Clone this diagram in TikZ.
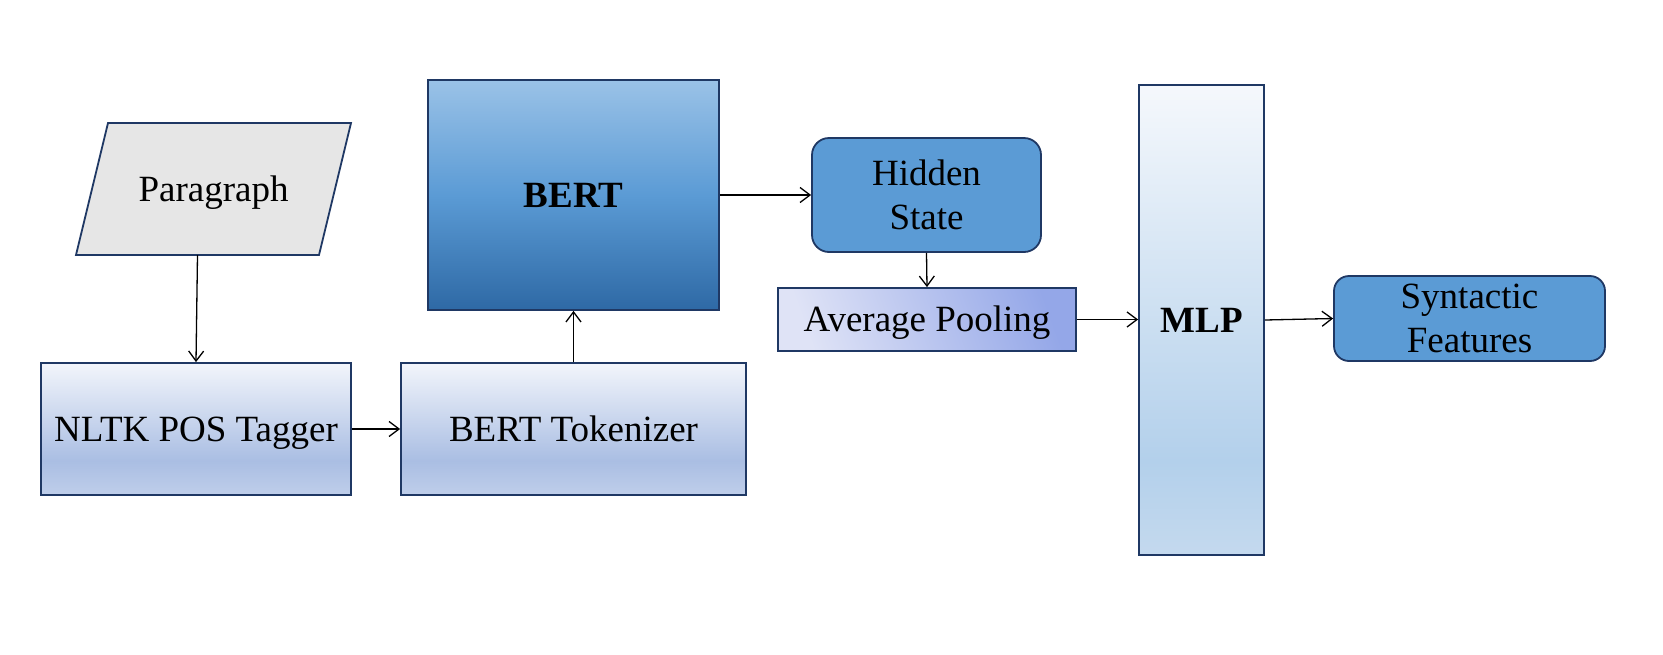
\documentclass[tikz,border=0pt]{standalone}
\usepackage{fontspec}
\setmainfont{Liberation Serif}
\usetikzlibrary{arrows.meta}
\definecolor{bord}{HTML}{1F3864}
\definecolor{paraf}{HTML}{E6E6E6}
\definecolor{nt}{HTML}{F2F5FB}
\definecolor{nm}{HTML}{AABEE3}
\definecolor{nb}{HTML}{BFCEEA}
\definecolor{bt}{HTML}{9AC2E7}
\definecolor{bm}{HTML}{5B9BD5}
\definecolor{bb}{HTML}{2E69A5}
\definecolor{mt}{HTML}{F5F8FC}
\definecolor{mm}{HTML}{B3D0EB}
\definecolor{mb}{HTML}{C4D9EE}
\definecolor{solidb}{HTML}{5B9BD5}
\definecolor{avgL}{HTML}{DFE3F6}
\definecolor{avgR}{HTML}{94A7E8}
\pgfdeclareverticalshading{nltkshade}{100bp}{color(0bp)=(nb); color(25bp)=(nb); color(38bp)=(nm); color(75bp)=(nt); color(100bp)=(nt)}
\pgfdeclareverticalshading{bertshade}{100bp}{color(0bp)=(bb); color(25bp)=(bb); color(50bp)=(bm); color(75bp)=(bt); color(100bp)=(bt)}
\pgfdeclareverticalshading{mlpshade}{100bp}{color(0bp)=(mb); color(25bp)=(mb); color(35bp)=(mm); color(75bp)=(mt); color(100bp)=(mt)}
\begin{document}
\begin{tikzpicture}[x=1pt,y=-1pt,
  txt/.style={font=\fontsize{37}{44}\selectfont},
  oneline/.style={text height=24.5pt, text depth=0pt},
  box/.style={txt, draw=bord, line width=1.8pt, inner sep=0pt, align=center},
  conn/.style={line width=1.3pt, -{Straight Barb[length=10pt,width=15pt]}}]
\useasboundingbox (0,0) rectangle (1663,654);
\fill[white] (0,0) rectangle (1663,654);
% Paragraph parallelogram
\draw[draw=bord, line width=1.8pt, fill=paraf] (76,255) -- (108,123) -- (351,123) -- (319,255) -- cycle;
\node[txt, oneline, inner sep=0pt] (para) at (213.5,189) {Paragraph};
\coordinate (pb) at (197.5,255);
\node[box, oneline, shading=nltkshade, minimum width=310pt, minimum height=132pt] (nltk) at (196,429) {NLTK POS Tagger};
\node[box, oneline, shading=nltkshade, minimum width=345pt, minimum height=132pt] (tok) at (573.5,429) {BERT Tokenizer};
\node[box, oneline, shading=bertshade, minimum width=291pt, minimum height=230pt] (bert) at (573.5,195) {\textbf{BERT}};
\node[box, fill=solidb, rounded corners=17pt, minimum width=229pt, minimum height=114pt] (hidden) at (926.5,195) {Hidden\\State};
\node[box, oneline, bottom color=avgL, top color=avgR, shading angle=-70, minimum width=298pt, minimum height=63pt] (avg) at (927,319.5) {Average Pooling};
\node[box, oneline, shading=mlpshade, minimum width=125pt, minimum height=470pt] (mlp) at (1201.5,320) {\textbf{MLP}};
\node[box, fill=solidb, rounded corners=15pt, minimum width=271pt, minimum height=85pt] (syn) at (1469.5,318.5) {Syntactic\\Features};
% connectors
\draw[conn] (pb) -- (nltk.north);
\draw[conn] (nltk.east) -- (tok.west);
\draw[conn] (tok.north) -- (bert.south);
\draw[conn] (bert.east) -- (hidden.west);
\draw[conn] (hidden.south) -- (avg.north);
\draw[conn] (avg.east) -- (avg.east -| mlp.west);
\draw[conn] (mlp.east) -- (syn.west);
\end{tikzpicture}
\end{document}
